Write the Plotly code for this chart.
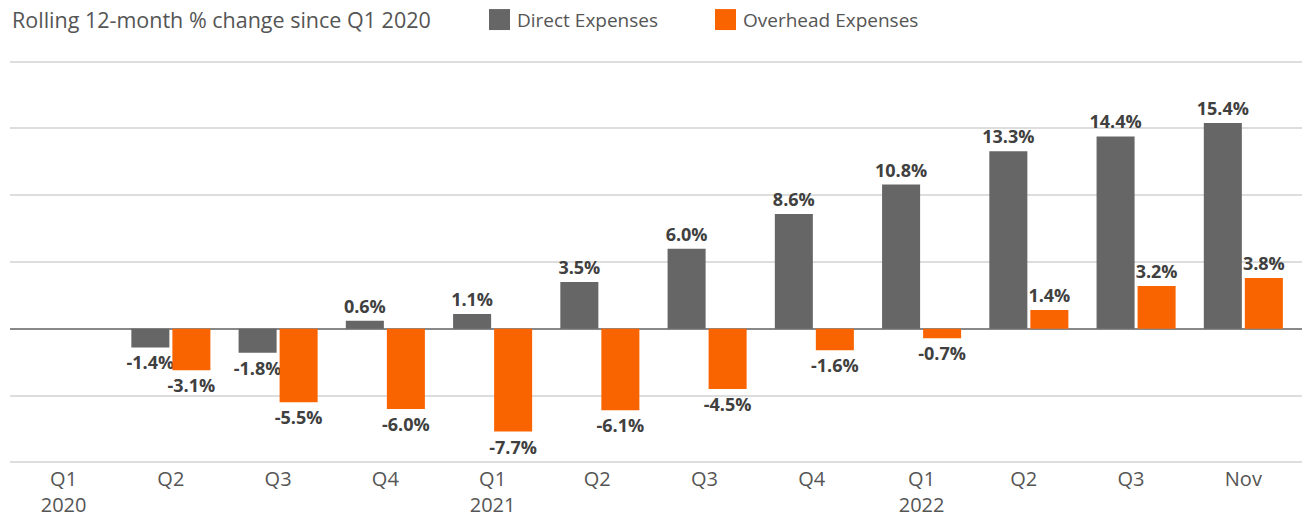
import plotly.graph_objects as go

categories = ["Q1<br>2020", "Q2", "Q3", "Q4", "Q1<br>2021", "Q2 ", "Q3 ", "Q4 ",
              "Q1<br>2022", "Q2  ", "Q3  ", "Nov"]
direct = [None, -1.4, -1.8, 0.6, 1.1, 3.5, 6.0, 8.6, 10.8, 13.3, 14.4, 15.4]
overhead = [None, -3.1, -5.5, -6.0, -7.7, -6.1, -4.5, -1.6, -0.7, 1.4, 3.2, 3.8]
series_names = ["Direct Expenses", "Overhead Expenses"]
colors = ["#666666", "#FA6400"]
title_text = "Rolling 12-month % change since Q1 2020"

FONT = "Open Sans"
W, H = 1302, 518
L, R, T, B = 10, 0, 59, 52.5


def px(x):
    return (x - L) / (W - L - R)


def py(y):
    return (H - B - y) / (H - T - B)


def labels(vals):
    return ["" if v is None else f"{v:.1f}%" for v in vals]


fig = go.Figure()
for name, vals, col in zip(series_names, [direct, overhead], colors):
    fig.add_trace(go.Bar(
        x=categories, y=vals, name=name, marker_color=col, marker_line_width=0,
        text=labels(vals), textposition="outside", cliponaxis=False,
        constraintext="none",
        textfont=dict(family=FONT, size=18, color="#404040", weight="bold"),
        showlegend=False,
    ))

fig.update_layout(
    template="none",
    width=W, height=H,
    margin=dict(l=L, r=R, t=T, b=B, pad=0),
    paper_bgcolor="white", plot_bgcolor="white",
    barmode="group", bargap=0.235, bargroupgap=0.073,
    font=dict(family=FONT, color="#555555"),
    xaxis=dict(range=[-0.5, 11.547], showgrid=False, showline=False, ticks="",
               automargin=False, zeroline=False,
               tickfont=dict(size=20, color="#555555"), fixedrange=True),
    yaxis=dict(range=[-10.2, 20.2], dtick=5, tick0=0, showticklabels=False,
               automargin=False, ticks="", showline=False, fixedrange=True,
               showgrid=True, gridcolor="#dddddd", gridwidth=1.5,
               zeroline=True, zerolinecolor="#888888", zerolinewidth=1.5),
)

fig.add_annotation(text=title_text, xref="paper", yref="paper", x=px(10), y=py(19),
                   xanchor="left", yanchor="middle",
                   showarrow=False, font=dict(family=FONT, size=21.5, color="#555555"))

# Legend drawn manually
leg_x = [489, 715]
for name, col, lx in zip(series_names, colors, leg_x):
    fig.add_shape(type="rect", xref="paper", yref="paper",
                  x0=px(lx), x1=px(lx + 21), y0=py(30), y1=py(9),
                  fillcolor=col, line_width=0)
    fig.add_annotation(text=name, xref="paper", yref="paper",
                       x=px(lx + 26), y=py(19.5),
                       xanchor="left", yanchor="middle", showarrow=False,
                       font=dict(family=FONT, size=19, color="#555555"))

fig.write_html("out.html", config={"displayModeBar": False},
               post_script="document.body.style.margin='0';document.body.style.overflow='hidden';")
